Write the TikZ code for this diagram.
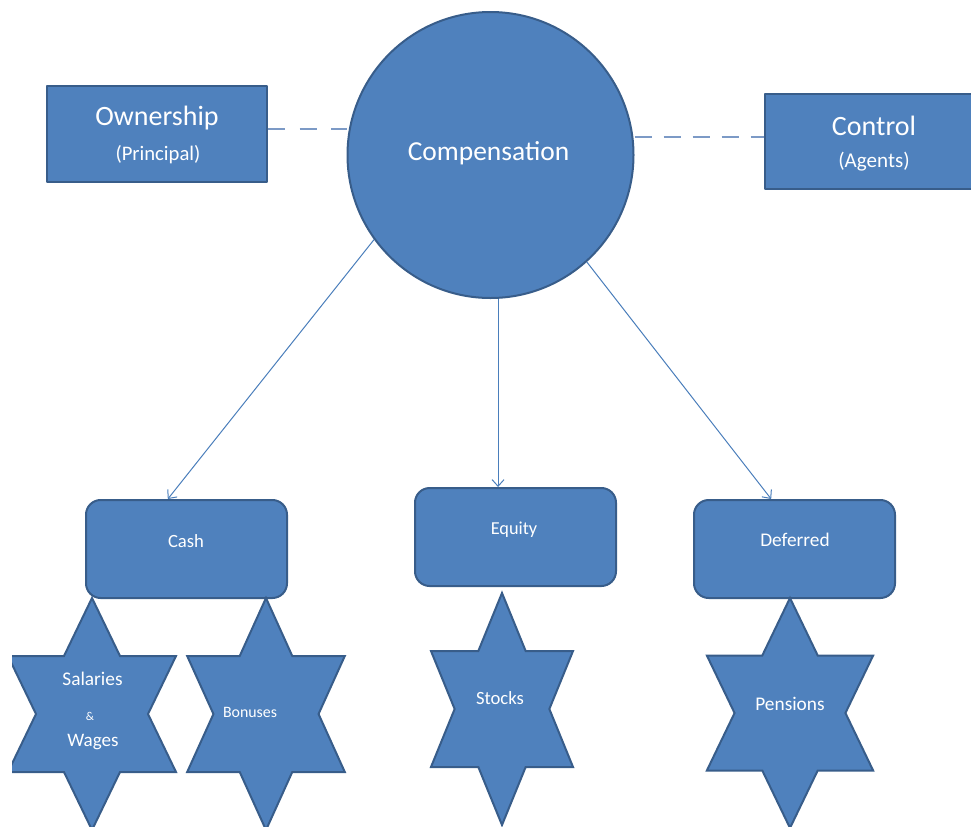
\documentclass[tikz,border=0pt]{standalone}
\usepackage{fontspec}
\setmainfont{Carlito}
\usetikzlibrary{arrows.meta}
\definecolor{fillblue}{HTML}{4F81BD}
\definecolor{edgeblue}{HTML}{385D8A}
\definecolor{lineblue}{HTML}{4A7EBB}
\definecolor{dashblue}{HTML}{7C9AC6}
% hexagram: center (#1,#2), outer radii #3 (x) and #4 (y), pixel coordinates
\newcommand{\hexstarpath}[4]{%
  \draw[starshape]
    (#1,{#2-#4}) -- ({#1+0.2887*#3},{#2-0.5*#4}) -- ({#1+0.866*#3},{#2-0.5*#4})
    -- ({#1+0.5774*#3},#2) -- ({#1+0.866*#3},{#2+0.5*#4}) -- ({#1+0.2887*#3},{#2+0.5*#4})
    -- (#1,{#2+#4}) -- ({#1-0.2887*#3},{#2+0.5*#4}) -- ({#1-0.866*#3},{#2+0.5*#4})
    -- ({#1-0.5774*#3},#2) -- ({#1-0.866*#3},{#2-0.5*#4}) -- ({#1-0.2887*#3},{#2-0.5*#4})
    -- cycle;}
\begin{document}
\begin{tikzpicture}[x=0.75pt,y=-0.75pt,
  shapefill/.style={draw=edgeblue, fill=fillblue, line width=1.5pt},
  boxrect/.style={shapefill, rectangle, line join=round, inner sep=0pt},
  boxround/.style={shapefill, rectangle, rounded corners=11pt, inner sep=0pt,
                   minimum width=150.75pt, minimum height=73.5pt},
  circ/.style={shapefill, circle, inner sep=0pt, minimum size=214.5pt},
  starshape/.style={shapefill, line join=miter},
  lbl/.style={text=white, inner sep=0pt, anchor=base},
  link/.style={draw=dashblue, line width=0.9pt},
  arrow/.style={draw=lineblue, line width=0.75pt, -{Straight Barb[length=5pt,width=9pt]}}]
\useasboundingbox (0,0) rectangle (971,826);

% top row
\node[boxrect, minimum width=165pt, minimum height=72pt] (own) at (157,134) {};
\node[circ] (comp) at (490.5,155) {};
\node[boxrect, minimum width=165pt, minimum height=71.25pt] (ctrl) at (875,141.5) {};

\node[lbl, font=\fontsize{21}{25}\selectfont] (ownT) at (157,125) {Ownership};
\node[lbl, font=\fontsize{15.5}{19}\selectfont] (ownS) at (158,160) {(Principal)};
\node[lbl, font=\fontsize{20.6}{25}\selectfont] (compT) at (488.5,160) {Compensation};
\node[lbl, font=\fontsize{21}{25}\selectfont] (ctrlT) at (874,135) {Control};
\node[lbl, font=\fontsize{15.8}{19}\selectfont] (ctrlS) at (874,167) {(Agents)};

\draw[link, dash pattern=on 13pt off 10.7pt] ([yshift=3.75pt]own.east) -- ([yshift=3.75pt]own.east -| comp.west);
\draw[link, dash pattern=on 12.75pt off 9pt] ([yshift=3.4pt]comp.east |- ctrl.west) -- ([yshift=3.4pt]ctrl.west);

% second row
\node[boxround] (cash) at (186.5,549) {};
\node[boxround] (equity) at (515.5,537) {};
\node[boxround] (deferred) at (794.5,549) {};

\node[lbl, font=\fontsize{14}{17}\selectfont] (cashT) at (186,547) {Cash};
\node[lbl, font=\fontsize{13.7}{17}\selectfont] (equityT) at (514,534) {Equity};
\node[lbl, font=\fontsize{14.5}{17}\selectfont] (deferredT) at (795,546) {Deferred};

\draw[arrow] (comp.216.5) -- ([xshift=-14pt]cash.north);
\draw[arrow] (comp.-87.4) -- (comp.-87.4 |- equity.north);
\draw[arrow] (comp.-48) -- ([xshift=-17.5pt]deferred.north);

% stars
\begin{scope}
  \clip (12,580) rectangle (200,826);
  \hexstarpath{92}{714}{97}{116}
\end{scope}
\hexstarpath{266}{714}{91}{116}
\hexstarpath{502}{709}{82}{116}
\hexstarpath{790}{713}{96}{115}

\node[lbl, font=\fontsize{14.5}{17}\selectfont] (salT) at (92.5,685) {Salaries};
\node[lbl, font=\fontsize{9}{11}\selectfont] (ampT) at (90,720) {\&};
\node[lbl, font=\fontsize{14.3}{17}\selectfont] (wagT) at (93,746) {Wages};
\node[lbl, font=\fontsize{11.9}{14}\selectfont] (bonT) at (250,717) {Bonuses};
\node[lbl, font=\fontsize{14}{17}\selectfont] (stoT) at (500,704) {Stocks};
\node[lbl, font=\fontsize{14.5}{17}\selectfont] (penT) at (790,710) {Pensions};
\end{tikzpicture}
\end{document}
